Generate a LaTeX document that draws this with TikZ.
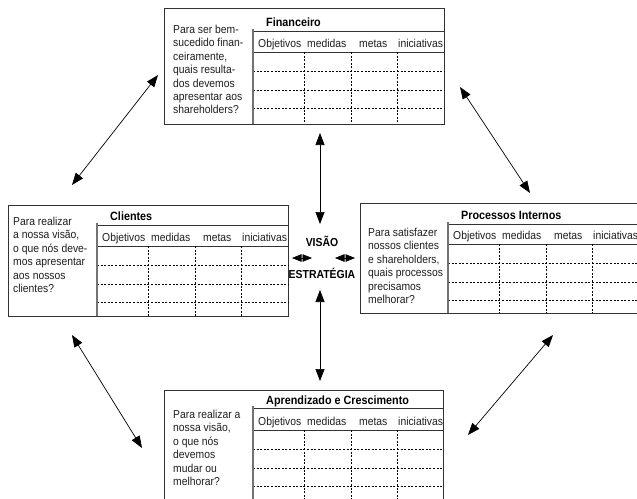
\documentclass[tikz,border=0pt]{standalone}
\usepackage{fontspec}
\setmainfont{Liberation Sans}[FakeStretch=0.9]
\usetikzlibrary{arrows.meta}
\tikzset{
  frame/.style={draw=black!80, line width=0.8pt},
  divider/.style={draw=black!55, line width=1.6pt},
  hline/.style={draw=black!80, line width=0.8pt},
  dashrow/.style={draw=black, line width=0.5pt, dash pattern=on 2pt off 1.6pt},
  qtext/.style={anchor=north west, inner sep=0pt, align=left, text=black!88, font=\fontsize{11.5}{13.4}\selectfont},
  ttl/.style={anchor=base west, inner sep=0pt, font=\bfseries\fontsize{12}{14}\selectfont},
  hdr/.style={anchor=base west, inner sep=0pt, font=\fontsize{11.5}{13}\selectfont, text=black!88},
  bigtip/.style={{Triangle[length=12pt,width=9pt]}-{Triangle[length=12pt,width=9pt]}, line width=0.7pt},
  smalltip/.style={{Triangle[length=9.5pt,width=7.5pt]}-{Triangle[length=9.5pt,width=7.5pt]}, line width=0.7pt},
  center/.style={inner sep=0pt, font=\bfseries\fontsize{11.6}{13}\selectfont},
}
% #1 divider x, #2 right x, #3 title-line y, #4 header-line y, #5 bottom y
\newcommand\bscgrid[5]{%
  \draw[hline] (#1,#3) -- (#2,#3);
  \draw[hline] (#1,#4) -- (#2,#4);
  \foreach \d in {19,38,56} \draw[dashrow] (#1,#4+\d) -- (#2,#4+\d);
  \foreach \c in {51,98,144} \draw[dashrow] (#1+\c,#4) -- (#1+\c,#5);
  \draw[divider] (#1,#3-2) -- (#1,#5);
  \node[hdr] at (#1+5,#4-5) {Objetivos};
  \node[hdr] at (#1+54,#4-5) {medidas};
  \node[hdr] at (#1+106,#4-5) {metas};
  \node[hdr] at (#1+145,#4-5) {iniciativas};
}
\begin{document}
\begin{tikzpicture}[x=1pt,y=-1pt]
\useasboundingbox (0,0) rectangle (637,498);
\clip (0,0) rectangle (637,498);
\fill[white] (0,0) rectangle (637,498);

% Financeiro
\node[frame, anchor=north west, minimum width=280pt, minimum height=116pt, inner sep=0pt] (fin) at (164,8) {};
\bscgrid{253}{444}{31}{52}{124}
\node[ttl] (fint) at (266,26) {Financeiro};
\node[qtext] (finq) at (173,25)
  {Para ser bem-\\sucedido finan-\\ceiramente,\\quais resulta-\\dos devemos\\apresentar aos\\shareholders?};

% Clientes
\node[frame, anchor=north west, minimum width=280pt, minimum height=111pt, inner sep=0pt] (cli) at (8,205) {};
\bscgrid{97}{288}{225}{246}{316}
\node[ttl] (clit) at (110,220) {Clientes};
\node[qtext] (cliq) at (13,217)
  {Para realizar\\a nossa visão,\\o que nós deve-\\mos apresentar\\aos nossos\\clientes?};

% Processos Internos
\node[frame, anchor=north west, minimum width=290pt, minimum height=110pt, inner sep=0pt] (pro) at (360,203) {};
\bscgrid{448}{640}{224}{244}{313}
\node[ttl] (prot) at (461,219) {Processos Internos};
\node[qtext] (proq) at (368,228)
  {Para satisfazer\\nossos clientes\\e shareholders,\\quais processos\\precisamos\\melhorar?};

% Aprendizado e Crescimento
\node[frame, anchor=north west, minimum width=279pt, minimum height=120pt, inner sep=0pt] (apr) at (164,390) {};
\bscgrid{253}{443}{408}{430}{505}
\node[ttl] (aprt) at (266,404) {Aprendizado e Crescimento};
\node[qtext] (aprq) at (173,410)
  {Para realizar a\\nossa visão,\\o que nós\\devemos\\mudar ou\\melhorar?};

% centre
\node[center] (visao) at (322,241) {VISÃO};
\node[center] (estr) at (322,273) {ESTRATÉGIA};

% arrow end points
\coordinate (a1s) at (72,185);  \coordinate (a1e) at (158,75);
\coordinate (a2s) at (460,87);  \coordinate (a2e) at (530,193);
\coordinate (a3s) at (72,335);  \coordinate (a3e) at (142,448);
\coordinate (a4s) at (553,335); \coordinate (a4e) at (468,435);
\coordinate (v1s) at (320,133); \coordinate (v1e) at (320,224);
\coordinate (v2s) at (320,290); \coordinate (v2e) at (320,381);
\coordinate (h1s) at (292,258); \coordinate (h1e) at (312,258);
\coordinate (h2s) at (335,258); \coordinate (h2e) at (355,258);

\draw[bigtip] (a1s) -- (a1e);
\draw[bigtip] (a2s) -- (a2e);
\draw[bigtip] (a3s) -- (a3e);
\draw[bigtip] (a4s) -- (a4e);
\draw[bigtip] (v1s) -- (v1e);
\draw[bigtip] (v2s) -- (v2e);
\draw[smalltip] (h1s) -- (h1e);
\draw[smalltip] (h2s) -- (h2e);
\end{tikzpicture}
\end{document}
